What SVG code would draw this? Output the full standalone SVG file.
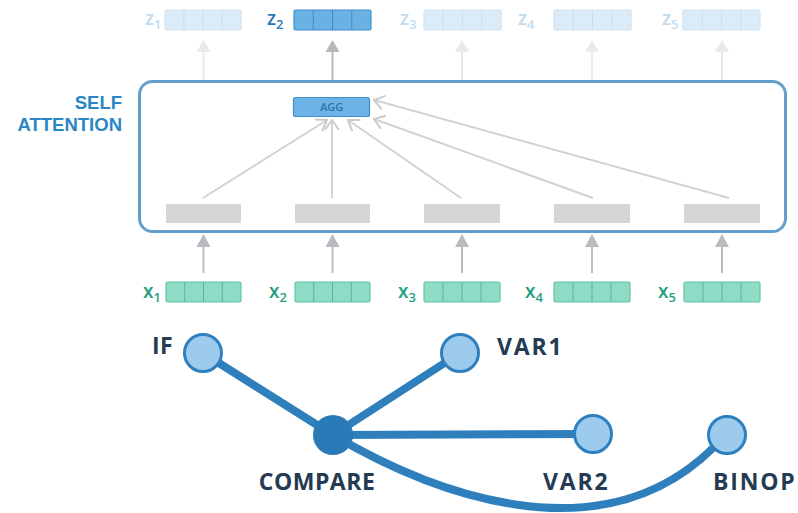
<svg xmlns="http://www.w3.org/2000/svg" width="798" height="513" viewBox="0 0 798 513">
  <defs>
    <style>
      .lbl { font-family: "Open Sans", "Liberation Sans", sans-serif; }
      .head { font-family: "Liberation Sans", "Open Sans", sans-serif; font-weight: 700; font-size: 18.5px; fill: #2b86c5; }
      .xl { font-weight: 600; font-size: 19px; fill: #1fa07e; }
      .xs { font-size: 13px; }
      .zl { font-weight: 600; font-size: 19px; fill: #c3dbef; }
      .zl2 { fill: #2a78b6; }
      .node-lbl { font-weight: 700; font-size: 23px; fill: #243b53; letter-spacing: 0.5px; }
      .wide { letter-spacing: 1.8px; }
      .xbox { fill: #8fdcc6; stroke: #62c5a8; stroke-width: 1.2; }
      .xcell { stroke: #55b898; stroke-width: 1; }
      .zbox { fill: #dcebf8; stroke: #cfe2f3; stroke-width: 1.2; }
      .zcell { stroke: #c7ddf1; stroke-width: 1; }
      .zbox2 { fill: #6ab2e4; stroke: #3c8ecb; stroke-width: 1.2; }
      .zcell2 { stroke: #3c8ecb; stroke-width: 1; }
      .gbox { fill: #d3d5d7; }
      .attn { stroke: #d0d2d4; stroke-width: 2; fill: none; marker-end: url(#chev); }
      .edge { stroke: #2f7fbd; stroke-width: 8; fill: none; stroke-linecap: round; }
      .leaf { fill: #9dcbee; stroke: #2f80bf; stroke-width: 3; }
      .hub { fill: #2a7ab8; }
    </style>
    <marker id="chev" viewBox="0 0 12 16" refX="11" refY="8" markerWidth="12" markerHeight="16" orient="auto" markerUnits="userSpaceOnUse">
      <path d="M1,1 L11,8 L1,15" fill="none" stroke="#c9cbcd" stroke-width="2"/>
    </marker>
  </defs>

  <!-- self-attention block -->
  <g id="self-attention">
    <rect x="139.5" y="81.5" width="646" height="150" rx="13" fill="#ffffff" stroke="#639fcc" stroke-width="3"/>
    <text class="head" x="122" y="109" text-anchor="end">SELF</text>
    <text class="head" x="122" y="131" text-anchor="end">ATTENTION</text>
  </g>

  <!-- hidden slots inside the block -->
  <g id="slots">
    <rect class="gbox" x="166" y="204" width="75" height="19"/>
    <rect class="gbox" x="295" y="204" width="75" height="19"/>
    <rect class="gbox" x="424" y="204" width="76" height="19"/>
    <rect class="gbox" x="554" y="204" width="76" height="19"/>
    <rect class="gbox" x="684" y="204" width="76" height="19"/>
  </g>

  <!-- aggregation node -->
  <g id="agg">
    <rect x="293.5" y="97.5" width="76" height="19" rx="2" fill="#6cb3e6" stroke="#3f8fcb" stroke-width="1.2"/>
    <text class="lbl" x="331.5" y="111" text-anchor="middle" font-size="11" font-weight="600" fill="#2d76ad">AGG</text>
  </g>

  <!-- connectors -->
  <g id="connectors">
    <!-- attention links to AGG -->
    <line class="attn" x1="203" y1="198" x2="327" y2="120"/>
    <line class="attn" x1="332" y1="198" x2="332" y2="120"/>
    <line class="attn" x1="461" y1="198" x2="348" y2="120"/>
    <line class="attn" x1="593" y1="198" x2="374" y2="119"/>
    <line class="attn" x1="729" y1="198" x2="374" y2="100"/>

    <!-- inputs into the block -->
    <g fill="#b8bcc0" stroke="#b8bcc0" stroke-width="2">
      <line x1="203.5" y1="247" x2="203.5" y2="273"/>
      <polygon points="203.5,234 196.5,247 210.5,247" stroke="none"/>
      <line x1="332.5" y1="247" x2="332.5" y2="273"/>
      <polygon points="332.5,234 325.5,247 339.5,247" stroke="none"/>
      <line x1="462" y1="247" x2="462" y2="273"/>
      <polygon points="462,234 455,247 469,247" stroke="none"/>
      <line x1="592" y1="247" x2="592" y2="273"/>
      <polygon points="592,234 585,247 599,247" stroke="none"/>
      <line x1="722" y1="247" x2="722" y2="273"/>
      <polygon points="722,234 715,247 729,247" stroke="none"/>
    </g>

    <!-- outputs from the block -->
    <g fill="#e8e9ea" stroke="#e8e9ea" stroke-width="2">
      <line x1="203.5" y1="52" x2="203.5" y2="80"/>
      <polygon points="203.5,40 196.5,52 210.5,52" stroke="none"/>
      <line x1="462" y1="52" x2="462" y2="80"/>
      <polygon points="462,40 455,52 469,52" stroke="none"/>
      <line x1="592" y1="52" x2="592" y2="80"/>
      <polygon points="592,40 585,52 599,52" stroke="none"/>
      <line x1="722" y1="52" x2="722" y2="80"/>
      <polygon points="722,40 715,52 729,52" stroke="none"/>
    </g>
    <g fill="#b5b9bd" stroke="#b5b9bd" stroke-width="2">
      <line x1="332.5" y1="52" x2="332.5" y2="80"/>
      <polygon points="332.5,40 325.5,52 339.5,52" stroke="none"/>
    </g>

    <!-- syntax tree edges -->
    <line class="edge" x1="203" y1="353" x2="333" y2="435"/>
    <line class="edge" x1="460" y1="353" x2="333" y2="435"/>
    <line class="edge" x1="333" y1="435" x2="593" y2="434"/>
    <path class="edge" d="M333,435 C430,492 600,560 714,447"/>
  </g>

  <!-- input vectors -->
  <g id="x1">
    <text class="lbl xl" x="143" y="298">x<tspan class="xs" dy="4">1</tspan></text>
    <rect class="xbox" x="166" y="282" width="75" height="20" rx="1.5"/>
    <path class="xcell" d="M184.75,282V302M203.5,282V302M222.25,282V302"/>
  </g>
  <g id="x2">
    <text class="lbl xl" x="269" y="298">x<tspan class="xs" dy="4">2</tspan></text>
    <rect class="xbox" x="295" y="282" width="75" height="20" rx="1.5"/>
    <path class="xcell" d="M313.75,282V302M332.5,282V302M351.25,282V302"/>
  </g>
  <g id="x3">
    <text class="lbl xl" x="398" y="298">x<tspan class="xs" dy="4">3</tspan></text>
    <rect class="xbox" x="424" y="282" width="76" height="20" rx="1.5"/>
    <path class="xcell" d="M443,282V302M462,282V302M481,282V302"/>
  </g>
  <g id="x4">
    <text class="lbl xl" x="525" y="298">x<tspan class="xs" dy="4">4</tspan></text>
    <rect class="xbox" x="554" y="282" width="76" height="20" rx="1.5"/>
    <path class="xcell" d="M573,282V302M592,282V302M611,282V302"/>
  </g>
  <g id="x5">
    <text class="lbl xl" x="658" y="298">x<tspan class="xs" dy="4">5</tspan></text>
    <rect class="xbox" x="684" y="282" width="76" height="20" rx="1.5"/>
    <path class="xcell" d="M703,282V302M722,282V302M741,282V302"/>
  </g>

  <!-- output vectors -->
  <g id="z1">
    <text class="lbl zl" x="145" y="25">z<tspan class="xs" dy="4">1</tspan></text>
    <rect class="zbox" x="165" y="10" width="76" height="20" rx="1.5"/>
    <path class="zcell" d="M184,10V30M203,10V30M222,10V30"/>
  </g>
  <g id="z2">
    <text class="lbl zl zl2" x="267" y="25">z<tspan class="xs" dy="4">2</tspan></text>
    <rect class="zbox2" x="294" y="10" width="77" height="20" rx="1.5"/>
    <path class="zcell2" d="M313.25,10V30M332.5,10V30M351.75,10V30"/>
  </g>
  <g id="z3">
    <text class="lbl zl" x="400" y="25">z<tspan class="xs" dy="4">3</tspan></text>
    <rect class="zbox" x="424" y="10" width="77" height="20" rx="1.5"/>
    <path class="zcell" d="M443.25,10V30M462.5,10V30M481.75,10V30"/>
  </g>
  <g id="z4">
    <text class="lbl zl" x="518" y="25">z<tspan class="xs" dy="4">4</tspan></text>
    <rect class="zbox" x="554" y="10" width="77" height="20" rx="1.5"/>
    <path class="zcell" d="M573.25,10V30M592.5,10V30M611.75,10V30"/>
  </g>
  <g id="z5">
    <text class="lbl zl" x="662" y="25">z<tspan class="xs" dy="4">5</tspan></text>
    <rect class="zbox" x="683" y="10" width="77" height="20" rx="1.5"/>
    <path class="zcell" d="M702.25,10V30M721.5,10V30M740.75,10V30"/>
  </g>

  <!-- syntax tree nodes -->
  <g id="node-if">
    <circle class="leaf" cx="203" cy="353" r="18.5"/>
    <text class="lbl node-lbl" x="152" y="354">IF</text>
  </g>
  <g id="node-var1">
    <circle class="leaf" cx="460" cy="353" r="18.5"/>
    <text class="lbl node-lbl wide" x="497" y="355">VAR1</text>
  </g>
  <g id="node-compare">
    <circle class="hub" cx="333" cy="435" r="20"/>
    <text class="lbl node-lbl" x="317" y="490" text-anchor="middle">COMPARE</text>
  </g>
  <g id="node-var2">
    <circle class="leaf" cx="593" cy="434" r="18.5"/>
    <text class="lbl node-lbl wide" x="543" y="490">VAR2</text>
  </g>
  <g id="node-binop">
    <circle class="leaf" cx="727" cy="435" r="18.5"/>
    <text class="lbl node-lbl wide" x="713" y="490">BINOP</text>
  </g>
</svg>
